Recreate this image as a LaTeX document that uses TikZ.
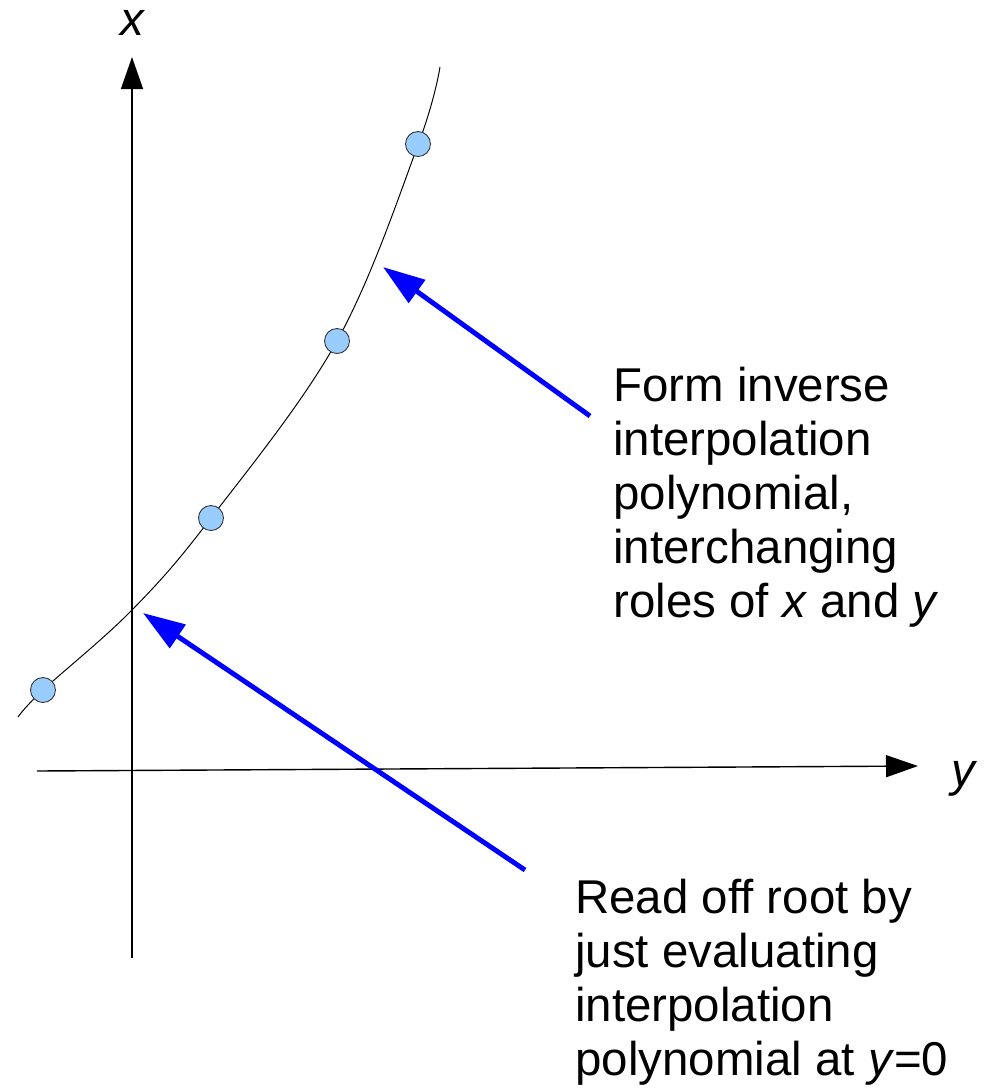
\documentclass[tikz,border=0pt]{standalone}
\usepackage{fontspec}
\setmainfont{Liberation Sans}
\usetikzlibrary{arrows.meta}
\definecolor{ptfill}{RGB}{153,204,255}

\begin{document}
\begin{tikzpicture}[x=0.02cm, y=-0.02cm,
    every node/.style={font=\fontsize{27}{30.7}\selectfont, inner sep=0pt},
    axis/.style={-{Triangle[length=0.64cm, width=0.44cm]}, line width=0.8pt, black},
    curve/.style={line width=0.55pt, black},
    datapt/.style={circle, draw=black!80, line width=0.5pt, fill=ptfill, minimum size=0.5cm, inner sep=0pt},
    pointer/.style={-{Triangle[length=0.84cm, width=0.55cm]}, line width=2.8pt, blue},
    note/.style={anchor=base west, align=left}
  ]
  \useasboundingbox (0,0) rectangle (989,1090);

  % Achsen
  \coordinate (xbot) at (132, 958);
  \coordinate (xtop) at (132, 57);
  \coordinate (yleft) at (37, 771);
  \coordinate (yright) at (918, 766);
  \draw[axis] (xbot) -- (xtop);
  \draw[axis] (yleft) -- (yright);
  \node (xlabel) at (133, 23) {\textit{x}};
  \node (ylabel) at (965, 779) {\textit{y}};

  % Kurve durch die Stuetzpunkte
  \draw[curve] plot[smooth, tension=0.6] coordinates {(18,717) (43,690) (132,610) (211,518) (337,341) (418,145) (440,67)};

  % Stuetzpunkte
  \node[datapt] (p1) at (43, 690) {};
  \node[datapt] (p2) at (211, 518) {};
  \node[datapt] (p3) at (337, 341) {};
  \node[datapt] (p4) at (418, 144) {};

  % Hinweispfeile
  \coordinate (formtail) at (590, 416);
  \coordinate (formtip) at (383, 267);
  \coordinate (readtail) at (525, 870);
  \coordinate (readtip) at (143, 613);
  \draw[pointer] (formtail) -- (formtip);
  \draw[pointer] (readtail) -- (readtip);

  % Beschriftungen (Grundlinie der letzten Zeile)
  \node[note] (formtext) at (613, 617) {Form inverse\\interpolation\\polynomial,\\interchanging\\roles of \textit{x} and \textit{y}};
  \node[note] (readtext) at (575, 1075) {Read off root by\\just evaluating\\interpolation\\polynomial at \textit{y}=0};

\end{tikzpicture}
\end{document}
